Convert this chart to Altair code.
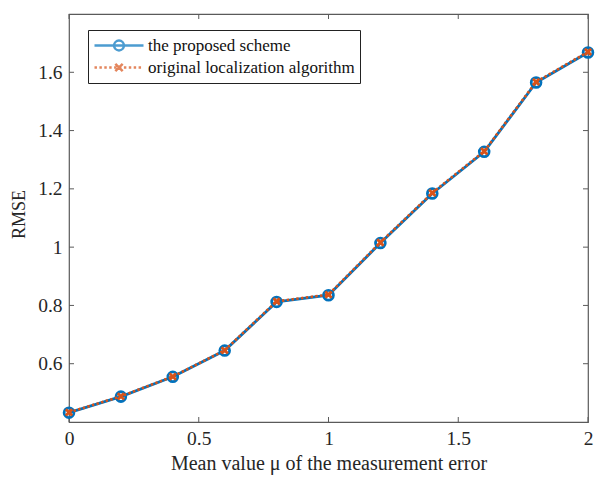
import altair as alt
import pandas as pd

# ---- data ----
x_vals = [0.0, 0.2, 0.4, 0.6, 0.8, 1.0, 1.2, 1.4, 1.6, 1.8, 2.0]
proposed = [0.432, 0.487, 0.555, 0.645, 0.812, 0.835, 1.014, 1.184, 1.327, 1.565, 1.668]
original = [0.433, 0.488, 0.556, 0.646, 0.814, 0.837, 1.016, 1.186, 1.329, 1.567, 1.670]
series_names = ["the proposed scheme", "original localization algorithm"]
x_ticks = [0, 0.5, 1, 1.5, 2]
y_ticks = [0.6, 0.8, 1, 1.2, 1.4, 1.6]

BLUE = "#0072BD"
ORANGE = "#D95319"
AXC = "#5a5a5a"
TXT = "#262626"
FONT = "Liberation Serif"
W, H = 519, 408

df = pd.DataFrame({
    "x": x_vals * 2,
    "y": proposed + original,
    "series": [series_names[0]] * len(x_vals) + [series_names[1]] * len(x_vals),
})

xscale = alt.Scale(domain=[0, 2], nice=False, zero=False)
yscale = alt.Scale(domain=[0.4, 1.8], nice=False, zero=False)
color_scale = alt.Scale(domain=series_names, range=[BLUE, ORANGE])

# legend symbol paths: line sample with marker
r = 0.2
circ = f"M-1,0H1M-{r},0A{r},{r} 0 1,0 {r},0A{r},{r} 0 1,0 -{r},0"
segs = []
p = -1.0
while p < 1.0:
    e = min(p + 0.1, 1.0)
    segs.append(f"M{p:.3f},0H{e:.3f}")
    p += 0.2
c = 0.15
xpath = "".join(segs) + f"M-{c},-{c}L{c},{c}M-{c},{c}L{c},-{c}"

x_axis = alt.Axis(values=x_ticks, title="Mean value μ of the measurement error",
                  format="~g", domain=False, ticks=False, grid=False, labelPadding=7,
                  titlePadding=6, labelFlush=False,
                  labelFont=FONT, labelFontSize=19.5, labelColor=TXT,
                  titleFont=FONT, titleFontSize=20, titleColor=TXT,
                  titleFontWeight="normal")
y_axis = alt.Axis(values=y_ticks, title="RMSE", format="~g", domain=False, ticks=False,
                  grid=False, labelPadding=7, titlePadding=9, labelFlush=False,
                  labelFont=FONT, labelFontSize=19.5, labelColor=TXT,
                  titleFont=FONT, titleFontSize=18, titleColor=TXT,
                  titleFontWeight="normal", titleY=200)
X = alt.X("x:Q", scale=xscale, axis=x_axis)
Y = alt.Y("y:Q", scale=yscale, axis=y_axis)

base = alt.Chart(df)

blue_line = base.transform_filter(alt.datum.series == series_names[0]).mark_line(
    color=BLUE, strokeWidth=2.8).encode(x=X, y=Y)
blue_pts = base.transform_filter(alt.datum.series == series_names[0]).mark_point(
    color=BLUE, filled=False, size=95, strokeWidth=2.8, opacity=1, shape="circle").encode(x=X, y=Y)
orange_line = base.transform_filter(alt.datum.series == series_names[1]).mark_line(
    color=ORANGE, strokeWidth=2.6, strokeDash=[2.4, 2.4]).encode(x=X, y=Y)
xshape = "M-1,-1L1,1M-1,1L1,-1"
orange_pts = base.transform_filter(alt.datum.series == series_names[1]).mark_point(
    color=ORANGE, filled=False, size=40, strokeWidth=2.8, opacity=1, shape=xshape).encode(x=X, y=Y)

legend_layer = base.transform_filter("false").mark_point(filled=False, strokeWidth=2.5).encode(
    x=X, y=Y,
    color=alt.Color("series:N", scale=color_scale,
                    legend=alt.Legend(title=None, orient="none", legendX=19, legendY=16,
                                      symbolSize=2401, symbolStrokeWidth=2.5,
                                      labelFont=FONT, labelFontSize=17, labelColor="#111",
                                      strokeColor="#222", fillColor="white", padding=5,
                                      clipHeight=21, rowPadding=1, labelOffset=3,
                                      labelLimit=400)),
    shape=alt.Shape("series:N", scale=alt.Scale(domain=series_names, range=[circ, xpath])),
)

xt = pd.DataFrame({"x": x_ticks})
yt = pd.DataFrame({"y": y_ticks})
tick_b = alt.Chart(xt).mark_rule(color=AXC).encode(x=X, y=alt.value(H), y2=alt.value(H - 5))
tick_t = alt.Chart(xt).mark_rule(color=AXC).encode(x=X, y=alt.value(0), y2=alt.value(5))
tick_l = alt.Chart(yt).mark_rule(color=AXC).encode(y=Y, x=alt.value(0), x2=alt.value(5))
tick_r = alt.Chart(yt).mark_rule(color=AXC).encode(y=Y, x=alt.value(W), x2=alt.value(W - 5))

chart = alt.layer(
    blue_line, tick_b, tick_t, tick_l, tick_r,
    blue_pts, orange_line, orange_pts, legend_layer,
).properties(
    width=W, height=H,
    autosize=alt.AutoSizeParams(type="none"),
    padding={"left": 69, "top": 14, "right": 8, "bottom": 56},
    background="white",
).configure_view(stroke=AXC, strokeWidth=1.2)

chart.save("out.html", embed_options={"renderer": "svg", "actions": False})
